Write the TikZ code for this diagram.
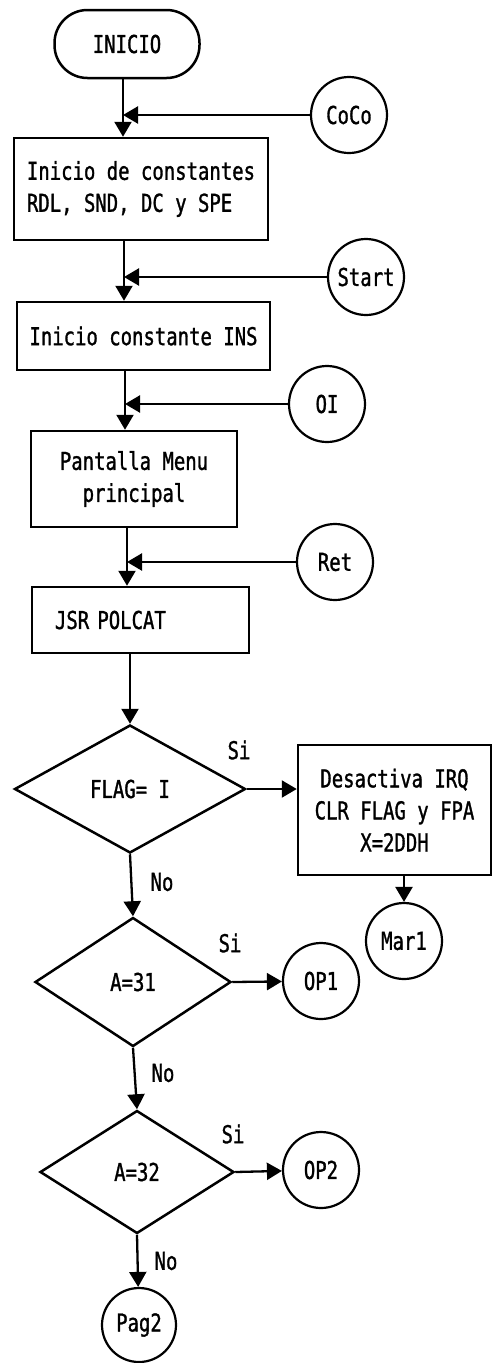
\documentclass[tikz,border=0pt]{standalone}
\usepackage{fontspec}
\newfontfamily\plotfont[FakeStretch=0.77,FakeBold=1.2]{DejaVu Sans Mono}
\usetikzlibrary{shapes,arrows.meta}

\begin{document}
\begin{tikzpicture}[x=1pt,y=-1pt]
\tikzstyle{every node}+=[font=\plotfont\fontsize{24.6}{32}\selectfont]
\tikzstyle{proc}=[draw=black,line width=2.5pt,rectangle,inner sep=0pt,align=center]
\tikzstyle{conn}=[draw=black,line width=2.2pt,circle,inner sep=0pt,minimum size=76pt]
\tikzstyle{deci}=[draw=black,line width=2.5pt,diamond,inner sep=0pt]
\tikzstyle{flow}=[black,line width=2.3pt,-{Triangle[length=15pt,width=17pt]}]
\useasboundingbox (0,0) rectangle (496,1363);
% blocks
\node (inicio) [draw=black,line width=2.5pt,rounded corners=33pt,minimum width=145pt,minimum height=68pt] at (127,44) {INICIO};
\node [conn] (coco) at (349,115) {CoCo};
\node [proc,minimum width=254pt,minimum height=102pt,align=left] (consts) at (141,189) {Inicio de constantes\\RDL, SND, DC y SPE};
\node [conn] (start) at (366,277) {Start};
\node [proc,minimum width=253pt,minimum height=68pt] (ins) at (143.5,336) {Inicio constante INS};
\node [conn] (oi) at (327,404) {OI};
\node [proc,minimum width=206pt,minimum height=96pt] (menu) at (134,479) {Pantalla Menu\\principal};
\node [conn] (ret) at (335,562) {Ret};
\node [proc,minimum height=66pt,text width=171pt,inner xsep=23pt,align=left] (polcat) at (140.5,620) {JSR POLCAT};
\node [deci,minimum width=231pt,minimum height=128pt] (flag) at (130,789) {FLAG= I};
\node [proc,minimum width=193pt,minimum height=130pt] (irq) at (394.5,810) {Desactiva IRQ\hspace{18pt}\\CLR FLAG y FPA\\X=2DDH\hspace{30pt}};
\node [conn] (mar1) at (404,941) {Mar1};
\node [deci,minimum width=196pt,minimum height=129pt] (a31) at (133,982) {A=31};
\node [conn] (op1) at (321,981) {OP1};
\node [deci,minimum width=194pt,minimum height=123pt] (a32) at (137,1172) {A=32};
\node [conn] (op2) at (321,1170) {OP2};
\node [conn,minimum size=74pt] (pag2) at (139,1325) {Pag2};
% labels
\node (si1) at (239,750) {Si};
\node (no1) at (162,882) {No};
\node (si2) at (230,943) {Si};
\node (no2) at (163,1073) {No};
\node (si3) at (233,1134) {Si};
\node (no3) at (166,1261) {No};
% junctions
\coordinate (j1) at (123,115);
\coordinate (j2) at (124,277);
\coordinate (j3) at (125,404);
\coordinate (j4) at (127,562);
% arrows
\draw [flow] (inicio.south -| j1) -- (j1 |- consts.north);
\draw [flow] (coco) -- (j1);
\draw [flow] (consts.south -| j2) -- (j2 |- ins.north);
\draw [flow] (start) -- (j2);
\draw [flow] (ins.south -| j3) -- (j3 |- menu.north);
\draw [flow] (oi) -- (j3);
\draw [flow] (menu.south -| j4) -- (j4 |- polcat.north);
\draw [flow] (ret) -- (j4);
\draw [flow] (flag |- polcat.south) -- (flag.north);
\draw [flow] (flag.east) -- (flag.east -| irq.west);
\draw [flow] (mar1 |- irq.south) -- (mar1.north);
\draw [flow] (flag.south) -- (a31.north);
\draw [flow] (a31.east) -- (op1);
\draw [flow] (a31.south) -- (a32.north);
\draw [flow] (a32.east) -- (op2);
\draw [flow] (a32.south) -- (pag2);
\end{tikzpicture}
\end{document}
